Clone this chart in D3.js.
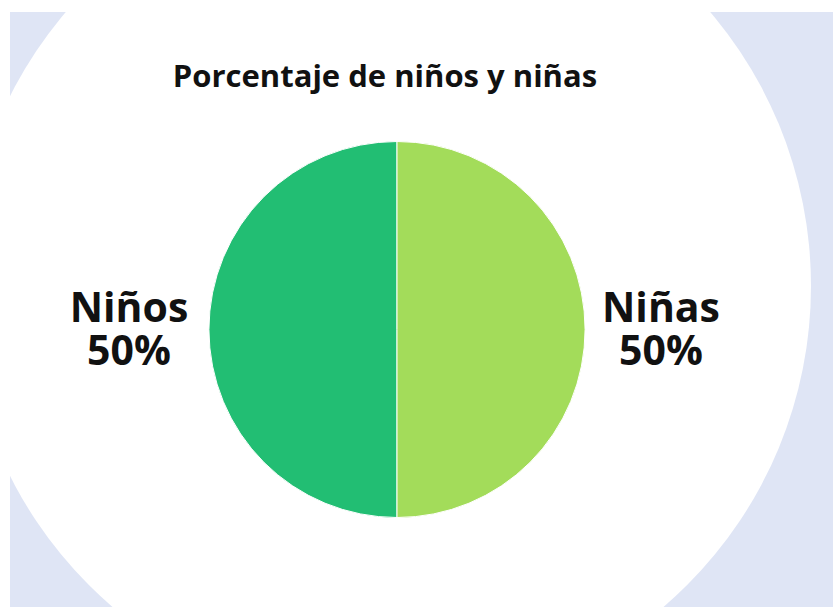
<!DOCTYPE html>
<html>
<head>
<meta charset="utf-8">
<script src="https://cdn.jsdelivr.net/npm/d3@7"></script>
<style>
  html, body { margin: 0; padding: 0; background: #ffffff; }
  svg { display: block; }
</style>
</head>
<body>
<script>
const title = "Porcentaje de niños y niñas";
const categories = ["Niños", "Niñas"];
const values = [50, 50];
const colors = ["#22be73", "#a3dc5a"];

const W = 833, H = 607;
const svg = d3.select("body").append("svg").attr("width", W).attr("height", H);

// background
svg.append("rect").attr("width", W).attr("height", H).attr("fill", "#ffffff");
svg.append("rect").attr("x", 10).attr("y", 12).attr("width", W - 10).attr("height", H - 12).attr("fill", "#dfe5f5");
svg.append("circle").attr("cx", 388).attr("cy", 286).attr("r", 423).attr("fill", "#ffffff");

// title
svg.append("text")
  .attr("x", 385).attr("y", 87)
  .attr("text-anchor", "middle")
  .attr("font-family", "'Open Sans', sans-serif")
  .attr("font-weight", 700)
  .attr("font-size", 31)
  .attr("fill", "#111111")
  .text(title);

const cx = 397, cy = 329.5, r = 188;
const g = svg.append("g").attr("transform", `translate(${cx},${cy})`);

const data = categories.map((c, i) => ({ name: c, value: values[i], color: colors[i] }));
const pie = d3.pie().sort(null).value(d => d.value).startAngle(Math.PI).endAngle(3 * Math.PI);
const arcs = pie(data);
const arc = d3.arc().innerRadius(0).outerRadius(r);
const labelArc = d3.arc().innerRadius(r + 78).outerRadius(r + 78);

g.selectAll("path.slice").data(arcs).enter().append("path")
  .attr("class", "slice")
  .attr("d", arc)
  .attr("fill", d => d.data.color)
  .attr("stroke", "#ffffff")
  .attr("stroke-width", 1);

const fmt = v => Math.round(v) + "%";
const total = d3.sum(values);
const labels = g.selectAll("text.lbl").data(arcs).enter().append("text")
  .attr("class", "lbl")
  .attr("text-anchor", "middle")
  .attr("font-family", "'Open Sans', sans-serif")
  .attr("font-weight", 700)
  .attr("font-size", 41)
  .attr("fill", "#111111")
  .attr("transform", d => { const [x, y] = labelArc.centroid(d); return `translate(${x - 2},${y})`; });
labels.append("tspan").attr("x", 0).attr("y", -7.5).text(d => d.data.name);
labels.append("tspan").attr("x", 0).attr("y", 35.5).text(d => fmt(d.data.value / total * 100));
</script>
</body>
</html>
